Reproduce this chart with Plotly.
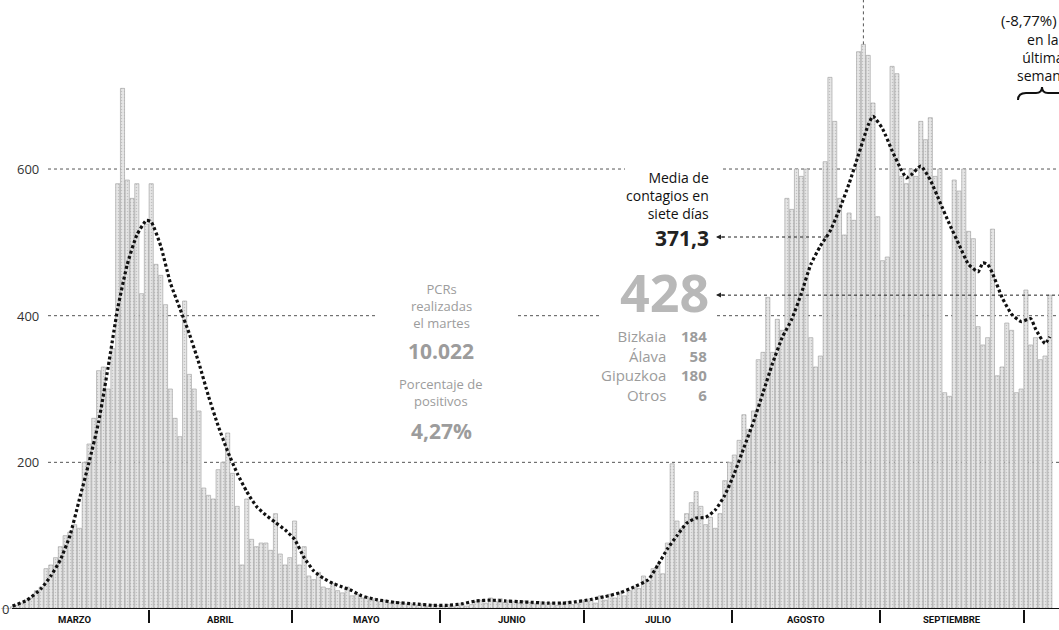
import pandas as pd
import plotly.graph_objects as go

# ---------------- DATA ----------------
START = "2020-03-01"

# daily positive cases (Mar 1 -> Oct 6)
cases_march = [0, 0, 3, 5, 8, 12, 15, 25, 30, 55, 60, 70, 85, 100, 105, 115, 110, 200, 225, 260,
               325, 330, 300, 355, 580, 710, 585, 560, 580, 430, 525]
cases_april = [580, 470, 455, 415, 300, 260, 235, 420, 320, 300, 270, 165, 155, 150, 190, 200, 240,
               185, 140, 60, 150, 95, 85, 90, 90, 80, 130, 75, 60, 70]
cases_may = [120, 60, 85, 45, 40, 50, 30, 28, 35, 25, 22, 30, 18, 20, 15, 17, 12, 14, 10, 12, 8, 10,
             9, 7, 8, 6, 5, 7, 4, 6, 5]
cases_june = [4, 6, 3, 5, 8, 4, 6, 10, 12, 8, 15, 10, 14, 9, 12, 10, 8, 11, 9, 7, 10, 6, 9, 8, 5, 7,
              10, 6, 8, 12]
cases_july = [10, 14, 8, 18, 12, 20, 15, 22, 18, 25, 30, 28, 45, 38, 55, 60, 48, 90, 198, 120, 110,
              130, 145, 160, 140, 115, 125, 110, 130, 175, 200]
cases_august = [210, 230, 265, 245, 270, 340, 350, 425, 350, 395, 380, 560, 545, 600, 590, 600, 370,
                330, 345, 610, 725, 665, 560, 510, 540, 530, 760, 770, 755, 690, 535]
cases_september = [475, 480, 740, 730, 590, 580, 600, 590, 665, 640, 670, 590, 600, 295, 290, 585,
                   570, 600, 515, 505, 385, 360, 370, 518, 318, 330, 390, 380, 295, 300]
cases_october = [435, 360, 370, 340, 345, 428]

# 7-day average (day offset from START, value)
avg_day_offsets = [2, 5, 8, 10, 12, 14, 16, 18, 20, 22, 24, 26, 28, 30, 31, 33, 35, 37, 39, 41, 43,
                   45, 47, 49, 51, 53, 55, 57, 59, 61, 63, 65, 67, 69, 71, 73, 75, 78, 82, 86, 90,
                   93, 96, 99, 102, 105, 108, 111, 114, 117, 120, 123, 126, 129, 132, 135, 137, 139,
                   141, 143, 145, 147, 149, 151, 153, 155, 157, 159, 161, 163, 165, 167, 169, 171,
                   173, 175, 177, 179, 181, 182, 184, 186, 188, 189, 190, 192, 194, 196, 198, 200,
                   202, 204, 205, 206, 207, 209, 211, 213, 215, 216, 218, 219]
avg_values = [4, 12, 28, 45, 67, 100, 150, 200, 255, 330, 410, 470, 510, 530, 528, 495, 445, 410,
              375, 335, 290, 250, 215, 185, 160, 140, 128, 118, 108, 95, 70, 52, 42, 35, 30, 25, 18,
              13, 9, 7, 5, 5, 7, 11, 12, 11, 10, 9, 8, 8, 10, 13, 17, 22, 30, 40, 60, 82, 100, 117,
              124, 125, 135, 155, 185, 220, 255, 295, 335, 370, 395, 430, 470, 495, 515, 545, 580,
              620, 660, 672, 655, 625, 598, 588, 592, 604, 585, 555, 525, 497, 470, 460, 472, 470,
              458, 425, 402, 392, 396, 382, 362, 371.3]

month_names = ["MARZO", "ABRIL", "MAYO", "JUNIO", "JULIO", "AGOSTO", "SEPTIEMBRE"]
month_starts = ["2020-03-01", "2020-04-01", "2020-05-01", "2020-06-01", "2020-07-01",
                "2020-08-01", "2020-09-01", "2020-10-01"]
y_tick_values = [0, 200, 400, 600]

last_value = 428
last_avg = "371,3"
pcr_total = "10.022"
pct_positive = "4,27%"
territories = ["Bizkaia", "Álava", "Gipuzkoa", "Otros"]
territory_values = [184, 58, 180, 6]
weekly_change = "(-8,77%)"

daily_cases = (cases_march + cases_april + cases_may + cases_june + cases_july +
               cases_august + cases_september + cases_october)

# ---------------- LAYOUT HELPERS ----------------
W, H = 1059, 630
PLOT_BOTTOM = 609
Y_MAX = 830.5
PX_PER_DAY = 4.78
X0_PX = 3

t0 = pd.Timestamp(START)
dates = pd.date_range(START, periods=len(daily_cases), freq="D")
avg_dates = [t0 + pd.Timedelta(days=d) for d in avg_day_offsets]


def px_to_date(px):
    return t0 + pd.Timedelta(days=(px - X0_PX) / PX_PER_DAY)


def xp(px):
    return px / W


def yp(py):
    return (PLOT_BOTTOM - py) / PLOT_BOTTOM


fig = go.Figure()

fig.add_trace(go.Bar(
    x=dates, y=daily_cases,
    marker=dict(color="#e0e0e0",
                line=dict(color="#9a9a9a", width=0.6),
                pattern=dict(shape=".", fgcolor="#9c9c9c", bgcolor="#e6e6e6",
                             size=3, solidity=0.2)),
    hoverinfo="skip", showlegend=False))

fig.add_trace(go.Scatter(
    x=avg_dates, y=avg_values, mode="lines",
    line=dict(color="#111111", width=3.2, dash="3px,2.4px", shape="spline", smoothing=0.5),
    hoverinfo="skip", showlegend=False))

shapes = []
# dotted gridlines (with gaps where the text blocks sit)
grid_segments = {
    200: [(48, W)],
    400: [(48, 377), (518, 602), (717, W)],
    600: [(48, 625), (723, W)],
}
for val, segs in grid_segments.items():
    for a, b in segs:
        shapes.append(dict(type="line", xref="paper", yref="y", x0=xp(a), x1=xp(b), y0=val, y1=val,
                           line=dict(color="#555555", width=1, dash="dot"), layer="below"))
# baseline
shapes.append(dict(type="line", xref="paper", yref="y", x0=xp(12), x1=1, y0=0, y1=0,
                   line=dict(color="#111111", width=2), layer="above"))
# leader for last day's value
shapes.append(dict(type="line", xref="paper", yref="y", x0=xp(722), x1=1, y0=last_value,
                   y1=last_value, line=dict(color="#222222", width=1, dash="dot"), layer="above"))
# leader for 7-day average text
shapes.append(dict(type="line", xref="paper", yref="paper", x0=xp(722), x1=xp(830),
                   y0=yp(237), y1=yp(237), line=dict(color="#222222", width=1, dash="dot"),
                   layer="above"))
# vertical leader from top to highest bar
imax = daily_cases.index(max(daily_cases))
shapes.append(dict(type="line", xref="x", yref="y", x0=dates[imax], x1=dates[imax],
                   y0=daily_cases[imax], y1=Y_MAX, line=dict(color="#555555", width=1, dash="dot"),
                   layer="above"))
# curly brace (top right)
bx = [1018, 1026, 1036, 1042, 1048, 1058, 1066]
by = [100, 93, 87]
path = "M {},{} Q {},{} {},{} L {},{} Q {},{} {},{} Q {},{} {},{} L {},{} Q {},{} {},{}".format(
    xp(bx[0]), yp(by[0]), xp(bx[0]), yp(by[1]), xp(bx[1]), yp(by[1]),
    xp(bx[2]), yp(by[1]), xp(bx[3]), yp(by[1]), xp(bx[3]), yp(by[2]),
    xp(bx[3]), yp(by[1]), xp(bx[4]), yp(by[1]), xp(bx[5]), yp(by[1]),
    xp(bx[6]), yp(by[1]), xp(bx[6]), yp(by[0]))
shapes.append(dict(type="path", xref="paper", yref="paper", path=path,
                   line=dict(color="#111111", width=2)))

ann = []
FONT = "Open Sans"
# y labels
for v in y_tick_values:
    ann.append(dict(xref="paper", yref="y", x=xp(11 if v == 0 else 41), y=v, text=str(v),
                    xanchor="right", yanchor="middle", showarrow=False,
                    font=dict(family=FONT, size=13, color="#333333")))
# month labels
ms = [pd.Timestamp(m) for m in month_starts]
for i, name in enumerate(month_names):
    mid = ms[i] + (ms[i + 1] - ms[i]) / 2 - pd.Timedelta(hours=12)
    ann.append(dict(xref="x", yref="paper", x=mid, y=yp(619), text=name, xanchor="center",
                    yanchor="middle", showarrow=False,
                    font=dict(family="Roboto", size=9.5, color="#111111", weight="bold")))


def txt(text, x, y, size, color, anchor="center", weight="normal", family=FONT):
    ann.append(dict(xref="paper", yref="paper", x=xp(x), y=yp(y), text=text, xanchor=anchor,
                    align=anchor if anchor != "center" else "center",
                    yanchor="middle", showarrow=False,
                    font=dict(family=family, size=size, color=color, weight=weight)))


GRAY = "#9c9c9c"
# PCR block
txt("PCRs<br>realizadas<br>el martes", 441, 306, 13, GRAY)
txt(pcr_total, 441, 351, 21, GRAY, weight="bold")
txt("Porcentaje de<br>positivos", 441, 392, 13, GRAY)
txt(pct_positive, 441, 431, 21, GRAY, weight="bold")

# Media block
txt("Media de<br>contagios en<br>siete días", 711, 195, 14, "#111111", anchor="right")
txt(last_avg, 711, 238, 21, "#222222", anchor="right", weight="bold")
txt(str(last_value), 711, 291, 52, "#b8b8b8", anchor="right", weight="bold")
txt("<br>".join(territories), 668, 366, 15, GRAY, anchor="right")
txt("<br>".join(str(v) for v in territory_values), 709, 366, 15, GRAY, anchor="right",
    weight="bold")

# arrowheads on the leaders
for yy in (237, 295):
    ann.append(dict(xref="paper", yref="paper", x=xp(716), y=yp(yy), ax=10, ay=0, text="",
                    showarrow=True, arrowhead=2, arrowsize=1, arrowwidth=1, arrowcolor="#222222"))

# top right text (cropped in the original)
txt(weekly_change, 1059, 20, 15, "#111111", anchor="right")
txt("en la<br>última<br>semana", 1043, 57, 14, "#111111")

fig.update_layout(
    width=W, height=H,
    margin=dict(l=0, r=0, t=0, b=H - PLOT_BOTTOM, pad=0),
    paper_bgcolor="white", plot_bgcolor="white",
    bargap=0.14,
    showlegend=False,
    xaxis=dict(range=[px_to_date(0), px_to_date(W)], showgrid=False, zeroline=False,
               showline=False, ticks="outside",
               tickvals=[m - pd.Timedelta(hours=12) for m in ms[1:]],
               ticklen=13, tickwidth=2, tickcolor="#111111", showticklabels=False),
    yaxis=dict(range=[0, Y_MAX], showgrid=False, zeroline=False, showticklabels=False),
    shapes=shapes,
    annotations=ann,
)

fig.write_html("out.html", config={"displayModeBar": False},
               post_script="document.body.style.margin='0';document.body.style.overflow='hidden';")
